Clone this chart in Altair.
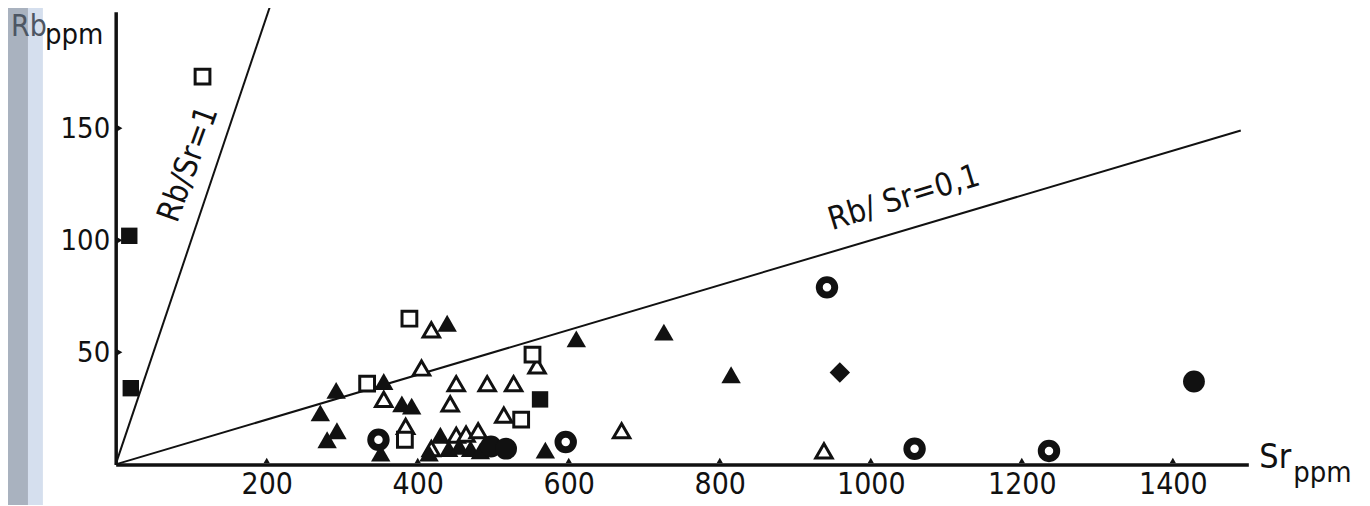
import altair as alt
import pandas as pd

# ---------------- data (Sr ppm, Rb ppm) ----------------
open_sq_sr = [115, 389, 333, 552, 537, 383]
open_sq_rb = [173, 65, 36, 49, 20, 11]

fill_sq_sr = [18, 20, 562]
fill_sq_rb = [102, 34, 29]

open_tri_sr = [418, 405, 558, 492, 527, 451, 443, 514, 355, 384, 670, 938, 451, 464, 480, 418]
open_tri_rb = [60, 43, 44, 36, 36, 36, 27, 22, 29, 17, 15, 6, 13, 13.5, 15, 7]

fill_tri_sr = [439, 610, 726, 815, 355, 292, 271, 379, 392, 293, 280, 351, 430, 441, 455, 470, 415, 483, 569]
fill_tri_rb = [63, 56, 59, 40, 37, 33, 23, 27, 26, 15, 11, 5, 13, 7, 8, 7, 5, 6, 6.4]

ring_sr = [942, 1058, 1236, 596, 348]
ring_rb = [79, 7, 6, 10, 11]

diamond_sr = [959]
diamond_rb = [41]

fill_circ_sr = [1428, 497, 517]
fill_circ_rb = [37, 8, 7]

# reference lines Rb/Sr = 1 and Rb/Sr = 0.1 (end points)
line1_sr = [0, 204]
line1_rb = [0, 204]
line01_sr = [0, 1490]
line01_rb = [0, 149]

x_ticks = [200, 400, 600, 800, 1000, 1200, 1400]
y_ticks = [50, 100, 150]

FONT = "DejaVu Sans Condensed"
INK = "#111111"


def df(sr, rb):
    return pd.DataFrame({"Sr": sr, "Rb": rb})


xs = alt.Scale(domain=[0, 1500], nice=False, zero=False)
ys = alt.Scale(domain=[0, 202], nice=False, zero=False)

xax = alt.Axis(values=x_ticks, ticks=False, grid=False, domain=True, domainWidth=3.5,
               domainColor=INK, labelFont=FONT, labelFontSize=30, labelColor=INK,
               labelPadding=5, title=None, format="d")
yax = alt.Axis(values=y_ticks, ticks=False, grid=False, domain=True, domainWidth=3.5,
               domainColor=INK, labelFont=FONT, labelFontSize=29, labelColor=INK,
               labelPadding=6, title=None, format="d")

X = alt.X("Sr:Q", scale=xs, axis=xax)
Y = alt.Y("Rb:Q", scale=ys, axis=yax)

# scan strip on the left
strip_light = alt.Chart(pd.DataFrame({"k": [1]})).mark_rect(color="#d5dfee").encode(
    x=alt.value(-108), x2=alt.value(-73), y=alt.value(-11), y2=alt.value(495))
strip_dark = alt.Chart(pd.DataFrame({"k": [1]})).mark_rect(color="#a9b2bf").encode(
    x=alt.value(-108), x2=alt.value(-88), y=alt.value(-11), y2=alt.value(495))

l1 = alt.Chart(df(line1_sr, line1_rb)).mark_line(color=INK, strokeWidth=2, clip=False).encode(x=X, y=Y)
l01 = alt.Chart(df(line01_sr, line01_rb)).mark_line(color=INK, strokeWidth=2).encode(x=X, y=Y)

tickx = alt.Chart(pd.DataFrame({"Sr": x_ticks})).mark_point(
    shape="triangle-up", filled=True, size=40, color=INK, opacity=1, yOffset=-4
).encode(x=alt.X("Sr:Q", scale=xs), y=alt.datum(0))
ticky = alt.Chart(pd.DataFrame({"Rb": y_ticks})).mark_point(
    shape="triangle-right", filled=True, size=40, color=INK, opacity=1, xOffset=4
).encode(y=alt.Y("Rb:Q", scale=ys), x=alt.datum(0))

o_tri = alt.Chart(df(open_tri_sr, open_tri_rb)).mark_point(
    shape="triangle-up", filled=True, fill="white", stroke=INK, strokeWidth=3, size=270, opacity=1
).encode(x=X, y=Y)
o_sq = alt.Chart(df(open_sq_sr, open_sq_rb)).mark_point(
    shape="square", filled=True, fill="white", stroke=INK, strokeWidth=3, size=220, opacity=1
).encode(x=X, y=Y)
f_tri = alt.Chart(df(fill_tri_sr, fill_tri_rb)).mark_point(
    shape="triangle-up", filled=True, color=INK, size=380, opacity=1
).encode(x=X, y=Y)
f_sq = alt.Chart(df(fill_sq_sr, fill_sq_rb)).mark_point(
    shape="square", filled=True, color=INK, size=270, opacity=1
).encode(x=X, y=Y)
ring = alt.Chart(df(ring_sr, ring_rb)).mark_point(
    shape="circle", filled=True, fill="white", stroke=INK, strokeWidth=7, size=240, opacity=1
).encode(x=X, y=Y)
dia = alt.Chart(df(diamond_sr, diamond_rb)).mark_point(
    shape="diamond", filled=True, color=INK, size=420, opacity=1
).encode(x=X, y=Y)
f_circ = alt.Chart(df(fill_circ_sr, fill_circ_rb)).mark_point(
    shape="circle", filled=True, color=INK, size=480, opacity=1
).encode(x=X, y=Y)

# line labels
lab1 = alt.Chart(pd.DataFrame({"Sr": [96], "Rb": [134], "t": ["Rb/Sr=1"]})).mark_text(
    font=FONT, fontSize=32, angle=290, color=INK
).encode(x=alt.X("Sr:Q", scale=xs), y=alt.Y("Rb:Q", scale=ys), text="t:N")
lab01 = alt.Chart(pd.DataFrame({"Sr": [1044], "Rb": [119], "t": ["Rb/ Sr=0,1"]})).mark_text(
    font=FONT, fontSize=32, angle=343, color=INK
).encode(x=alt.X("Sr:Q", scale=xs), y=alt.Y("Rb:Q", scale=ys), text="t:N")

# axis titles
rb_t = alt.Chart(pd.DataFrame({"t": ["Rb"]})).mark_text(
    font=FONT, fontSize=30, align="left", baseline="alphabetic", color="#4d5663"
).encode(x=alt.value(-105), y=alt.value(24), text="t:N")
rb_u = alt.Chart(pd.DataFrame({"t": ["ppm"]})).mark_text(
    font=FONT, fontSize=29, align="left", baseline="alphabetic", color=INK
).encode(x=alt.value(-71), y=alt.value(32), text="t:N")
sr_t = alt.Chart(pd.DataFrame({"t": ["Sr"]})).mark_text(
    font=FONT, fontSize=34, align="left", baseline="alphabetic", color=INK
).encode(x=alt.value(1147), y=alt.value(458), text="t:N")
sr_u = alt.Chart(pd.DataFrame({"t": ["ppm"]})).mark_text(
    font=FONT, fontSize=29, align="left", baseline="alphabetic", color=INK
).encode(x=alt.value(1181), y=alt.value(472), text="t:N")

chart = alt.layer(
    strip_light, strip_dark, l1, l01, tickx, ticky,
    o_tri, o_sq, f_tri, f_sq, f_circ, dia, ring,
    lab1, lab01, rb_t, rb_u, sr_t, sr_u
).properties(
    width=1136, height=454,
    autosize=alt.AutoSizeParams(type="none"),
    padding={"left": 108, "top": 3, "right": 114, "bottom": 40},
    background="white"
).configure_view(stroke=None)

chart.save("out.html", embed_options={"renderer": "svg", "actions": False})
